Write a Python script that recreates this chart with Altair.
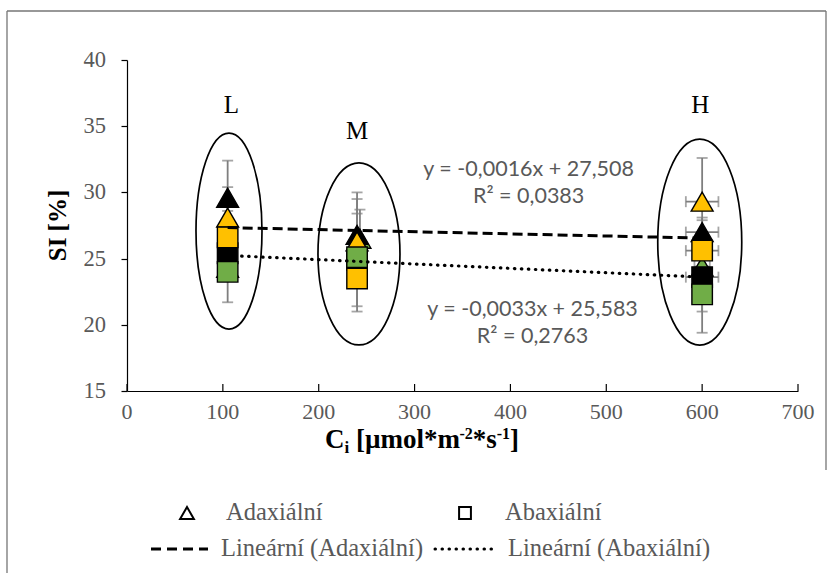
import altair as alt
import pandas as pd

# ---- measured stomatal index (SI) against intercellular CO2 (Ci) ----------
# adaxial leaf side (triangles), drawn in this order
ad_grp = ["black", "yellow", "green", "green", "black", "yellow", "black", "yellow", "green"]
ad_ci = [105, 105, 105, 243, 240, 240, 600, 600, 600]
ad_si = [29.6, 28.1, 24.3, 26.5, 26.8, 26.3, 27.0, 29.3, 24.4]
ad_err_si = [2.8, 2.3, 1.0, 2.2, 3.2, 3.2, 1.1, 3.3, 1.2]
ad_err_ci = [0, 0, 0, 0, 0, 0, 17, 17, 8]

# abaxial leaf side (squares), drawn in this order
ab_grp = ["black", "yellow", "green", "black", "yellow", "green", "black", "yellow", "green"]
ab_ci = [105, 105, 105, 240, 240, 240, 600, 600, 600]
ab_si = [25.4, 26.6, 24.0, 24.9, 23.5, 25.1, 23.6, 25.6, 22.3]
ab_err_si = [1.2, 2.0, 2.3, 3.5, 2.5, 1.5, 2.6, 2.3, 2.9]
ab_err_ci = [0, 0, 0, 0, 0, 0, 17, 17, 8]

# linear trend lines (slope, intercept) and their labels
ad_fit = (-0.0016, 27.508)
ab_fit = (-0.0033, 25.583)
ad_eq = ["y = -0,0016x + 27,508", "R² = 0,0383"]
ab_eq = ["y = -0,0033x + 25,583", "R² = 0,2763"]

# CO2 level groups: label, label position, ellipse centre, ellipse radii (px)
lvl_names = ["L", "M", "H"]
lvl_label_ci = [109, 240, 598]
lvl_label_si = [36.6, 34.65, 36.6]
ell_ci = [106.4, 242, 597.5]
ell_si = [27.08, 25.35, 26.25]
ell_rx = [33, 41, 42]
ell_ry = [98, 91, 103]

x_ticks = [0, 100, 200, 300, 400, 500, 600, 700]
y_ticks = [15, 20, 25, 30, 35, 40]

COLORS = {"black": "#000000", "yellow": "#FFC000", "green": "#70AD47"}
SERIF = "Liberation Serif"
GREY_TXT = "#595959"
ERR = "#7F7F7F"

W, H = 671, 331
PAD_L, PAD_T = 127, 60

xs = alt.Scale(domain=[0, 700], nice=False, zero=False)
ys = alt.Scale(domain=[15, 40], nice=False, zero=False)
col_scale = alt.Scale(domain=list(COLORS), range=list(COLORS.values()))

# axis lines and y ticks come from the axes; tick labels are drawn as text below
XA = alt.Axis(values=x_ticks, ticks=False, labels=False, grid=False, title=None)
YA = alt.Axis(values=y_ticks, grid=False, title=None, tickSize=6, labels=False)


def side(grp, ci, si, esi, eci):
    return pd.DataFrame({"ci": ci, "si": si, "esi": esi, "eci": eci, "grp": grp})


ad = side(ad_grp, ad_ci, ad_si, ad_err_si, ad_err_ci)
ab = side(ab_grp, ab_ci, ab_si, ab_err_si, ab_err_ci)
both = pd.concat([ad, ab], ignore_index=True)

ev = both[both.esi > 0].copy()
ev["lo"] = ev.si - ev.esi
ev["hi"] = ev.si + ev.esi
ev_caps = pd.concat([ev.assign(cap=ev.lo), ev.assign(cap=ev.hi)])

eh = both[both.eci > 0].copy()
eh["lo"] = eh.ci - eh.eci
eh["hi"] = eh.ci + eh.eci
eh_caps = pd.concat([eh.assign(cap=eh.lo), eh.assign(cap=eh.hi)])

X = lambda f="ci": alt.X(f"{f}:Q", scale=xs, axis=XA)
Y = lambda f="si": alt.Y(f"{f}:Q", scale=ys, axis=YA)

one = pd.DataFrame({"a": [0]})
layers = []

# chart frame (top, left and right edges)
frame = dict(color="#767676", strokeWidth=1.3)
layers.append(alt.Chart(one).mark_rule(**frame).encode(
    x=alt.value(7 - PAD_L), x2=alt.value(826 - PAD_L),
    y=alt.value(11 - PAD_T), y2=alt.value(11 - PAD_T)))
layers.append(alt.Chart(one).mark_rule(**frame).encode(
    x=alt.value(7 - PAD_L), y=alt.value(11 - PAD_T), y2=alt.value(573 - PAD_T)))
layers.append(alt.Chart(one).mark_rule(**frame).encode(
    x=alt.value(826 - PAD_L), y=alt.value(11 - PAD_T), y2=alt.value(470 - PAD_T)))

# x-axis tick marks point into the plot, with their labels below the axis
xt = pd.DataFrame({"t": x_ticks})
layers.append(alt.Chart(xt).mark_rule(color="#000000", strokeWidth=1.2).encode(
    x=X("t"), y=alt.value(H), y2=alt.value(H - 7)))
layers.append(alt.Chart(xt).mark_text(
    font=SERIF, fontSize=22, color=GREY_TXT, baseline="middle").encode(
    x=X("t"), y=alt.value(H + 21), text="t:Q"))

# y-axis tick labels
yt = pd.DataFrame({"t": y_ticks})
layers.append(alt.Chart(yt).mark_text(
    font=SERIF, fontSize=22.5, color=GREY_TXT, baseline="middle", align="right").encode(
    y=Y("t"), x=alt.value(-21), text="t:Q"))

# ellipses grouping the CO2 levels
ell = pd.DataFrame({"ci": ell_ci, "si": ell_si, "rx": ell_rx, "ry": ell_ry})
ell["shape"] = [
    f"M -1 0 A 1 {ry / rx:.4f} 0 1 1 1 0 A 1 {ry / rx:.4f} 0 1 1 -1 0 Z"
    for rx, ry in zip(ell.rx, ell.ry)
]
ell["sz"] = (2 * ell.rx) ** 2
layers.append(alt.Chart(ell).mark_point(filled=False, color="#000000", strokeWidth=1.7,
                                        opacity=1).encode(
    x=X(), y=Y(), shape=alt.Shape("shape:N", scale=None),
    size=alt.Size("sz:Q", scale=None)))

# error bars
layers.append(alt.Chart(ev).mark_rule(color=ERR, strokeWidth=1.8).encode(
    x=X(), y=Y("lo"), y2="hi:Q"))
layers.append(alt.Chart(ev_caps).mark_tick(orient="horizontal", color=ERR, size=11,
                                          thickness=1.8).encode(x=X(), y=Y("cap")))
layers.append(alt.Chart(eh).mark_rule(color=ERR, strokeWidth=1.8).encode(
    x=X("lo"), x2="hi:Q", y=Y()))
layers.append(alt.Chart(eh_caps).mark_tick(orient="vertical", color=ERR, size=11,
                                          thickness=1.8).encode(x=X("cap"), y=Y()))

# markers
layers.append(alt.Chart(ad).mark_point(shape="triangle-up", filled=True, size=480,
                                       stroke="#000000", strokeWidth=1.4, opacity=1).encode(
    x=X(), y=Y(), fill=alt.Fill("grp:N", scale=col_scale, legend=None)))
layers.append(alt.Chart(ab).mark_point(shape="square", filled=True, size=420,
                                       stroke="#000000", strokeWidth=1.4, opacity=1).encode(
    x=X(), y=Y(), fill=alt.Fill("grp:N", scale=col_scale, legend=None)))


# trend lines
def trend(ci, fit):
    xs_ = [min(ci), max(ci)]
    return pd.DataFrame({"ci": xs_, "si": [fit[0] * v + fit[1] for v in xs_]})


layers.append(alt.Chart(trend(ad_ci, ad_fit)).mark_line(
    color="#000000", strokeWidth=3, strokeDash=[10, 5]).encode(x=X(), y=Y()))
layers.append(alt.Chart(trend(ab_ci, ab_fit)).mark_line(
    color="#000000", strokeWidth=3.2, strokeDash=[0.5, 6.5], strokeCap="round").encode(
    x=X(), y=Y()))

# level labels
lv = pd.DataFrame({"ci": lvl_label_ci, "si": lvl_label_si, "t": lvl_names})
layers.append(alt.Chart(lv).mark_text(font=SERIF, fontSize=25, color="#000000").encode(
    x=X(), y=Y(), text="t:N"))

# trend equations
eq = pd.DataFrame({
    "ci": [419, 419, 423, 423],
    "si": [31.69, 29.65, 21.12, 19.08],
    "t": ad_eq + ab_eq,
})
layers.append(alt.Chart(eq).mark_text(font="Lato", fontSize=21.5, color=GREY_TXT).encode(
    x=X(), y=Y(), text="t:N"))

# y-axis title
layers.append(alt.Chart(one).mark_text(
    text="SI [%]", font=SERIF, fontSize=25, fontWeight="bold", color="#000000",
    angle=270, align="center", baseline="middle").encode(
    x=alt.value(58 - PAD_L), y=alt.value(H / 2)))

# x-axis title with sub/superscripts (pieces placed by advance width)
adv = {"C": .722, "i": .278, " ": .25, "[": .333, "µ": .556, "m": .833, "o": .5,
       "l": .278, "*": .5, "-": .333, "2": .5, "1": .5, "s": .389, "]": .333}
parts = [("C", 27, 0), ("i", 17, 5), (" ", 27, 0), ("[µmol*m", 27, 0), ("-2", 16, -9),
         ("*s", 27, 0), ("-1", 16, -9), ("]", 27, 0)]
px = 325 - PAD_L
for txt, fs, dy in parts:
    if txt.strip():
        layers.append(alt.Chart(one).mark_text(
            text=txt, font=SERIF, fontSize=fs, fontWeight="bold", color="#000000",
            align="left", baseline="alphabetic").encode(
            x=alt.value(px), y=alt.value(448 - PAD_T + dy)))
    px += sum(adv[c] for c in txt) * fs

# legend
r1, r2 = 513 - PAD_T, 549 - PAD_T
leg_txt = dict(font=SERIF, fontSize=24.5, color=GREY_TXT, align="left", baseline="middle")
layers.append(alt.Chart(one).mark_point(shape="triangle-up", filled=True, fill="#FFFFFF",
                                        stroke="#000000", strokeWidth=2, size=190,
                                        opacity=1).encode(
    x=alt.value(187 - PAD_L), y=alt.value(r1)))
layers.append(alt.Chart(one).mark_point(shape="square", filled=True, fill="#FFFFFF",
                                        stroke="#000000", strokeWidth=2, size=140,
                                        opacity=1).encode(
    x=alt.value(465 - PAD_L), y=alt.value(r1)))
layers.append(alt.Chart(one).mark_text(text="Adaxiální", **leg_txt).encode(
    x=alt.value(226 - PAD_L), y=alt.value(r1)))
layers.append(alt.Chart(one).mark_text(text="Abaxiální", **leg_txt).encode(
    x=alt.value(505 - PAD_L), y=alt.value(r1)))
layers.append(alt.Chart(one).mark_rule(color="#000000", strokeWidth=3,
                                       strokeDash=[10, 6]).encode(
    x=alt.value(151 - PAD_L), x2=alt.value(208 - PAD_L), y=alt.value(r2)))
layers.append(alt.Chart(one).mark_rule(color="#000000", strokeWidth=3,
                                       strokeDash=[0.5, 6.5], strokeCap="round").encode(
    x=alt.value(435 - PAD_L), x2=alt.value(498 - PAD_L), y=alt.value(r2)))
layers.append(alt.Chart(one).mark_text(text="Lineární (Adaxiální)", **leg_txt).encode(
    x=alt.value(221 - PAD_L), y=alt.value(r2)))
layers.append(alt.Chart(one).mark_text(text="Lineární (Abaxiální)", **leg_txt).encode(
    x=alt.value(508 - PAD_L), y=alt.value(r2)))

chart = alt.layer(*layers).properties(
    width=W, height=H,
    padding={"left": PAD_L, "top": PAD_T, "right": 832 - PAD_L - W, "bottom": 573 - PAD_T - H},
    autosize=alt.AutoSizeParams(type="none"),
    background="#FFFFFF",
).configure_view(strokeWidth=0).configure_axis(
    domainColor="#000000", domainWidth=1.2, tickColor="#000000", tickWidth=1.2,
)

chart.save("out.html", embed_options={"renderer": "svg", "actions": False})
